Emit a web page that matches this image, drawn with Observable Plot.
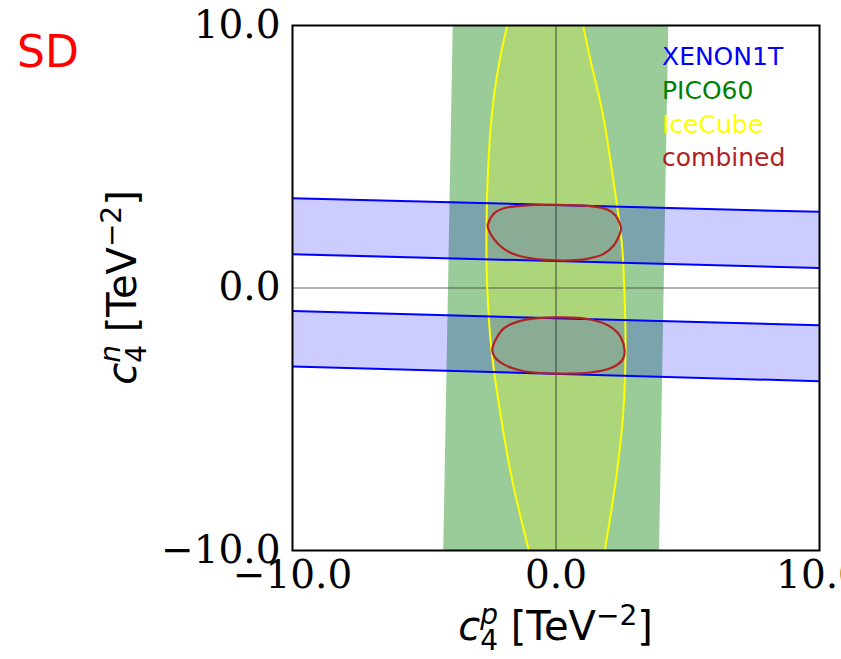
<!DOCTYPE html>
<html>
<head>
<meta charset="utf-8">
<script src="https://cdn.jsdelivr.net/npm/d3@7"></script>
<script src="https://cdn.jsdelivr.net/npm/@observablehq/plot@0.6"></script>
<style>
  html, body { margin: 0; padding: 0; background: #fff; overflow: hidden; }
  #chart { position: relative; width: 841px; height: 659px; }
</style>
</head>
<body>
<div id="chart"></div>
<script>
// ---- Data ----
const xTicks = [-10, 0, 10];
const yTicks = [-10, 0, 10];

// PICO60 band (vertical band, slightly tilted)
const picoY = [-10, 10];
const picoLeft = [-4.26, -3.90];
const picoRight = [3.93, 4.28];

// XENON1T bands (two tilted horizontal bands)
const xenonX = [-10, 10];
const xenonBand1Hi = [3.42, 2.90];
const xenonBand1Lo = [1.29, 0.76];
const xenonBand2Hi = [-0.88, -1.42];
const xenonBand2Lo = [-2.99, -3.55];

// IceCube ellipse edges, read at several c4n values
const iceY = [-10, -7.33, -4.79, -2.26, 0.03, 1.68, 4.22, 6.76, 8.67, 10];
const iceLeft = [-1.03, -1.66, -2.11, -2.46, -2.61, -2.64, -2.59, -2.42, -2.14, -1.85];
const iceRight = [1.85, 2.27, 2.55, 2.64, 2.59, 2.50, 2.16, 1.75, 1.31, 1.03];

// combined contours (closed loops)
const combUpperX = [-2.59, -2.36, -1.98, -1.22, 0.02, 1.31, 1.94, 2.26, 2.42, 2.47, 2.42, 2.19, 1.81, 1.18, 0.02, -1.35, -1.98, -2.36, -2.59];
const combUpperY = [2.41, 2.83, 3.04, 3.14, 3.17, 3.12, 2.99, 2.76, 2.45, 2.26, 2.06, 1.62, 1.30, 1.11, 1.05, 1.21, 1.49, 1.87, 2.32];
const combLowerX = [-2.42, -2.30, -1.98, -1.35, 0.02, 1.31, 2.07, 2.45, 2.60, 2.55, 2.19, 1.31, 0.02, -1.22, -1.98, -2.33];
const combLowerY = [-2.37, -1.99, -1.54, -1.25, -1.12, -1.20, -1.48, -1.86, -2.37, -2.69, -3.00, -3.22, -3.26, -3.17, -2.91, -2.62];

const legendNames = ["XENON1T", "PICO60", "IceCube", "combined"];
const legendColors = ["#0000ff", "#008000", "#ffff00", "#b22222"];

// ---- Tables built from the arrays ----
const pico = picoY.map((y, i) => ({y, x1: picoLeft[i], x2: picoRight[i]}));
const band1 = xenonX.map((x, i) => ({x, lo: xenonBand1Lo[i], hi: xenonBand1Hi[i]}));
const band2 = xenonX.map((x, i) => ({x, lo: xenonBand2Lo[i], hi: xenonBand2Hi[i]}));
const ice = iceY.map((y, i) => ({y, l: iceLeft[i], r: iceRight[i]}));
const comb = [
  ...combUpperX.map((x, i) => ({x, y: combUpperY[i], k: "upper"})),
  ...combLowerX.map((x, i) => ({x, y: combLowerY[i], k: "lower"}))
];

const tickFont = {fontFamily: "DejaVu Serif", fontSize: 39};

const plot = Plot.plot({
  width: 841,
  height: 659,
  marginLeft: 292,
  marginRight: 22,
  marginTop: 25,
  marginBottom: 109,
  style: {background: "white", fontFamily: "DejaVu Serif", fontSize: "39px", overflow: "visible"},
  x: {domain: [-10, 10], label: null},
  y: {domain: [-10, 10], label: null},
  marks: [
    Plot.areaX(pico, {y: "y", x1: "x1", x2: "x2", fill: "#008000", fillOpacity: 0.4, clip: true}),
    Plot.areaX(ice, {y: "y", x1: "l", x2: "r", fill: "#ffff00", fillOpacity: 0.2, curve: "catmull-rom", clip: true}),
    Plot.areaY(band1, {x: "x", y1: "lo", y2: "hi", fill: "#0000ff", fillOpacity: 0.2, clip: true}),
    Plot.areaY(band2, {x: "x", y1: "lo", y2: "hi", fill: "#0000ff", fillOpacity: 0.2, clip: true}),
    Plot.ruleX([0], {stroke: "#333", strokeOpacity: 0.75, strokeWidth: 1.2}),
    Plot.ruleY([0], {stroke: "#333", strokeOpacity: 0.75, strokeWidth: 1.2}),
    Plot.line(ice, {y: "y", x: "l", stroke: "#ffff00", strokeWidth: 2, curve: "catmull-rom", clip: true}),
    Plot.line(ice, {y: "y", x: "r", stroke: "#ffff00", strokeWidth: 2, curve: "catmull-rom", clip: true}),
    Plot.line(band1, {x: "x", y: "hi", stroke: "#0000ff", strokeWidth: 2, clip: true}),
    Plot.line(band1, {x: "x", y: "lo", stroke: "#0000ff", strokeWidth: 2, clip: true}),
    Plot.line(band2, {x: "x", y: "hi", stroke: "#0000ff", strokeWidth: 2, clip: true}),
    Plot.line(band2, {x: "x", y: "lo", stroke: "#0000ff", strokeWidth: 2, clip: true}),
    Plot.line(comb, {x: "x", y: "y", z: "k", stroke: "#b22222", strokeWidth: 2.2, curve: "catmull-rom-closed", clip: true}),
    Plot.frame({stroke: "black", strokeWidth: 2}),
    Plot.axisX(xTicks, {tickSize: 0, tickPadding: 10, tickFormat: d3.format(".1f"), ...tickFont, fill: "black"}),
    Plot.axisY(yTicks, {tickSize: 0, tickPadding: 12, tickFormat: d3.format(".1f"), ...tickFont, fill: "black"})
  ]
});

document.getElementById("chart").appendChild(plot);

const svg = d3.select(plot);
const sx = plot.scale("x"), sy = plot.scale("y");
const cx = sx.apply(0), cy = sy.apply(0);
const F = 40;

// Title "SD"
svg.append("text")
  .attr("x", 17).attr("y", 67).attr("text-anchor", "start")
  .attr("font-family", "DejaVu Sans").attr("font-size", 44)
  .attr("fill", "#ff0000").text("SD");

// Legend
legendNames.forEach((name, i) => {
  svg.append("text")
    .attr("x", 662).attr("y", 65 + i * 33.8).attr("text-anchor", "start")
    .attr("font-family", "DejaVu Sans").attr("font-size", 25)
    .attr("fill", legendColors[i]).text(name);
});

function axisLabel(g, sup) {
  const t = g.append("text")
    .attr("font-family", "DejaVu Sans").attr("font-size", F)
    .attr("fill", "black").attr("text-anchor", "middle");
  t.append("tspan").attr("font-style", "italic").text("c");
  t.append("tspan").attr("font-size", F * 0.7).attr("dy", 10).text("4");
  t.append("tspan").attr("font-size", F * 0.7).attr("font-style", "italic")
    .attr("dx", -F * 0.7 * 0.636).attr("dy", -26).text(sup);
  t.append("tspan").attr("dy", 16).text("\u00a0[TeV");
  t.append("tspan").attr("font-size", F * 0.7).attr("dy", -15).text("\u2212");
  t.append("tspan").attr("font-size", F * 0.7).text("2");
  t.append("tspan").attr("dy", 15).text("]");
  return t;
}

axisLabel(svg.append("g").attr("transform", `translate(${cx},640)`), "p");
axisLabel(svg.append("g").attr("transform", `translate(136,${cy}) rotate(-90)`), "n");
</script>
</body>
</html>
